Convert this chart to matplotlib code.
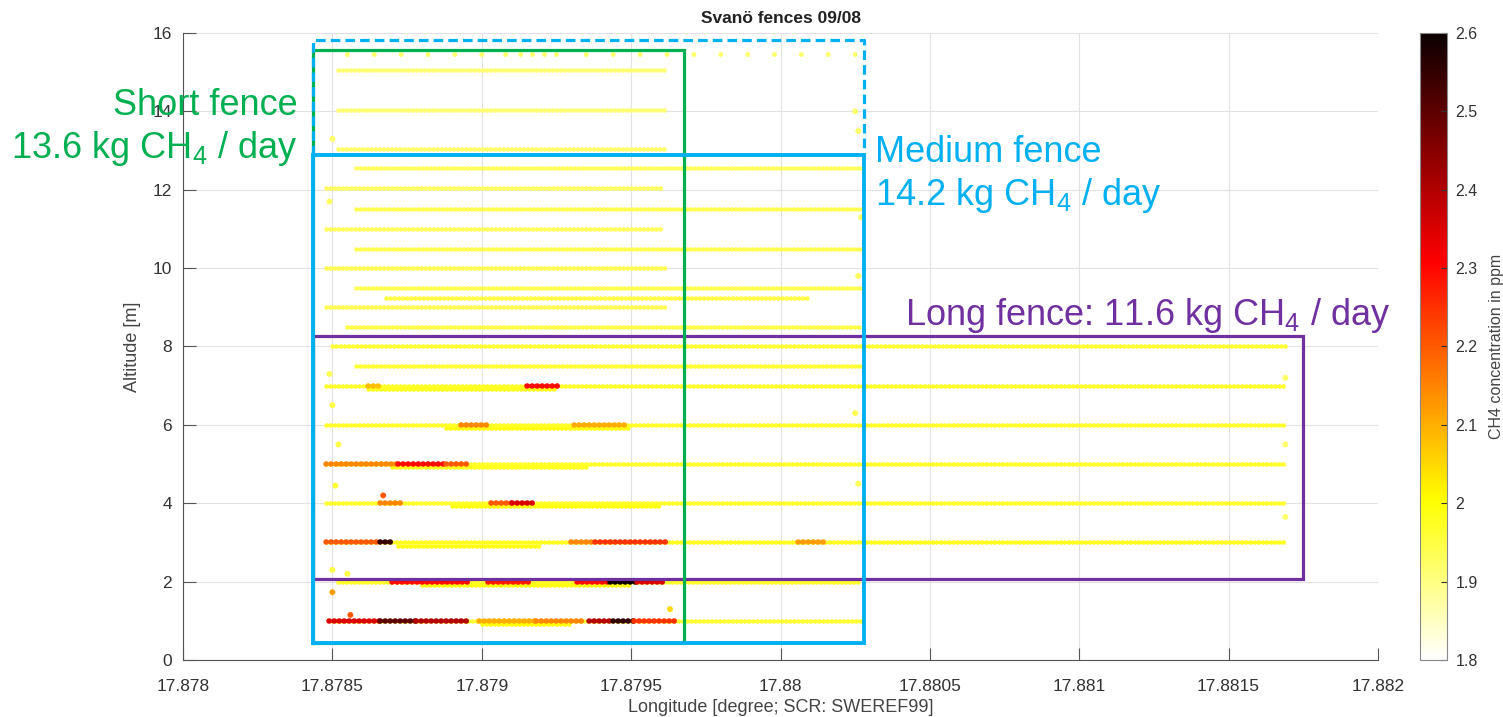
import numpy as np
import matplotlib.pyplot as plt
from matplotlib.collections import LineCollection
from matplotlib.colors import Normalize

plt.rcParams['font.family'] = ['Liberation Sans', 'DejaVu Sans']
plt.rcParams['mathtext.default'] = 'regular'

# flight tracks: altitude [m], start / end longitude, typical CH4 [ppm]
track_alt = [15.05, 14.03, 13.05, 12.55, 12.05, 11.5, 11.0, 10.5, 10.0, 9.5, 9.25, 9.0,
             8.5, 8.0, 7.5, 7.0, 6.0, 5.0, 4.0, 3.0, 2.0, 1.0,
             6.92, 5.92, 4.93, 3.92, 2.9, 1.92, 0.92]
track_lon0 = [17.87852, 17.87852, 17.87852, 17.87858, 17.87848, 17.87858, 17.87848, 17.87858,
              17.87848, 17.87858, 17.87868, 17.87848, 17.87855, 17.87850, 17.87858, 17.87848,
              17.87848, 17.87848, 17.87848, 17.87848, 17.87852, 17.87850,
              17.87862, 17.87888, 17.87870, 17.87890, 17.87872, 17.87880, 17.87900]
track_lon1 = [17.87962, 17.87962, 17.87962, 17.88027, 17.87960, 17.88027, 17.87960, 17.88027,
              17.87962, 17.88027, 17.88010, 17.87962, 17.88027, 17.88169, 17.88027, 17.88169,
              17.88169, 17.88169, 17.88169, 17.88169, 17.88027, 17.88027,
              17.87925, 17.87950, 17.87935, 17.87960, 17.87920, 17.87950, 17.87930]
track_ppm = [1.91, 1.91, 1.92, 1.93, 1.93, 1.94, 1.93, 1.94, 1.94, 1.94, 1.95, 1.94,
             1.95, 1.96, 1.96, 1.97, 1.97, 1.97, 1.97, 1.98, 1.97, 1.96,
             1.98, 1.99, 1.98, 1.99, 1.99, 1.99, 2.00]

# enhanced concentration stretches
hot_alt = [7.0, 7.0, 6.0, 6.0, 5.0, 5.0, 5.0, 4.0, 4.0, 4.0, 3.0, 3.0, 3.0, 3.0, 3.0,
           2.0, 2.0, 2.0, 2.0, 2.0, 1.0, 1.0, 1.0, 1.0, 1.0, 1.0, 1.0, 1.0]
hot_lon0 = [17.87915, 17.87862, 17.87893, 17.87931, 17.87848, 17.87872, 17.87888, 17.87866,
            17.87903, 17.87910, 17.87848, 17.87866, 17.87930, 17.87938, 17.88006,
            17.87870, 17.87902, 17.87932, 17.87943, 17.87952,
            17.87849, 17.87866, 17.87878, 17.87899, 17.87918, 17.87936, 17.87944, 17.87951]
hot_lon1 = [17.87927, 17.87867, 17.87903, 17.87948, 17.87872, 17.87888, 17.87895, 17.87874,
            17.87910, 17.87918, 17.87866, 17.87871, 17.87938, 17.87962, 17.88016,
            17.87896, 17.87917, 17.87943, 17.87952, 17.87962,
            17.87866, 17.87878, 17.87895, 17.87918, 17.87935, 17.87944, 17.87951, 17.87965]
hot_ppm = [2.30, 2.08, 2.15, 2.10, 2.15, 2.30, 2.20, 2.15, 2.20, 2.35, 2.20, 2.55, 2.15, 2.25, 2.12,
           2.30, 2.28, 2.30, 2.60, 2.35, 2.35, 2.50, 2.40, 2.10, 2.15, 2.40, 2.55, 2.25]

# isolated samples
dot_alt = [4.2, 1.73, 1.15, 2.3, 2.2, 1.3, 13.3, 11.7, 7.3, 6.5, 5.5, 4.45,
           14.0, 13.5, 11.3, 9.8, 6.3, 4.5, 7.2, 5.5, 3.65]
dot_lon = [17.87867, 17.87850, 17.87856, 17.87850, 17.87855, 17.87963, 17.87850, 17.87849,
           17.87849, 17.87850, 17.87852, 17.87851,
           17.88025, 17.88026, 17.88027, 17.88026, 17.88025, 17.88026, 17.88169, 17.88169, 17.88169]
dot_ppm = [2.2, 2.12, 2.2, 1.95, 1.95, 2.05, 1.92, 1.93, 1.94, 1.95, 1.95, 1.96,
           1.92, 1.92, 1.93, 1.93, 1.94, 1.94, 1.92, 1.92, 1.92]

# sparse samples along the top pass (15.45 m)
top_lon = [17.87855, 17.87864, 17.87873, 17.87882, 17.87891, 17.87900, 17.87908, 17.87913,
           17.87917, 17.87921, 17.87925, 17.87935, 17.87944, 17.87953, 17.87962, 17.87971,
           17.87980, 17.87989, 17.87998, 17.88007, 17.88016, 17.88025]
top_ppm = [1.92] * len(top_lon)

xticks = [17.878, 17.8785, 17.879, 17.8795, 17.88, 17.8805, 17.881, 17.8815, 17.882]
xticklabels = ['17.878', '17.8785', '17.879', '17.8795', '17.88', '17.8805', '17.881', '17.8815', '17.882']
yticks = [0, 2, 4, 6, 8, 10, 12, 14, 16]
cticks = [1.8, 1.9, 2.0, 2.1, 2.2, 2.3, 2.4, 2.5, 2.6]
cticklabels = ['1.8', '1.9', '2', '2.1', '2.2', '2.3', '2.4', '2.5', '2.6']

GREEN, BLUE, PURPLE = '#00B050', '#00B0F0', '#7030A0'
INK = '#333333'

fig = plt.figure(figsize=(15.03, 7.17), dpi=100)
ax = fig.add_axes([0.1218, 0.0795, 0.795, 0.8745])
cax = fig.add_axes([0.9448, 0.0795, 0.018, 0.8745])

norm = Normalize(vmin=1.8, vmax=2.6)
cmap = plt.get_cmap('hot_r')

segs = [[(x0, a), (x1, a)] for a, x0, x1 in zip(track_alt, track_lon0, track_lon1)]
lc = LineCollection(segs, array=np.array(track_ppm), cmap=cmap, norm=norm,
                    linewidths=3.3, linestyles=[(0, (0.05, 0.85))], capstyle='round', zorder=2)
ax.add_collection(lc)

hsegs = [[(x0, a), (x1, a)] for a, x0, x1 in zip(hot_alt, hot_lon0, hot_lon1)]
hlc = LineCollection(hsegs, array=np.array(hot_ppm), cmap=cmap, norm=norm,
                     linewidths=4.0, linestyles=[(0, (0.05, 0.85))], capstyle='round', zorder=3)
ax.add_collection(hlc)

ax.scatter(dot_lon, dot_alt, c=dot_ppm, cmap=cmap, norm=norm, s=18, edgecolors='none', zorder=3)
ax.scatter(top_lon, [15.45] * len(top_lon), c=top_ppm, cmap=cmap, norm=norm, s=12,
           edgecolors='none', zorder=3)

# fence boxes
L = 17.878436
ax.plot([L, 17.881748, 17.881748, L, L], [2.07, 2.07, 8.27, 8.27, 2.07],
        color=PURPLE, lw=2.3, zorder=4, solid_joinstyle='miter')
ax.plot([L, 17.879678, 17.879678, L, L], [0.43, 0.43, 15.56, 15.56, 0.43],
        color=GREEN, lw=2.3, zorder=5, solid_joinstyle='miter')
ax.plot([L, 17.880279, 17.880279, L, L], [0.43, 0.43, 12.88, 12.88, 0.43],
        color=BLUE, lw=2.8, zorder=6, solid_joinstyle='miter')
ax.plot([L, L, 17.880279, 17.880279], [12.88, 15.82, 15.82, 12.88],
        color=BLUE, lw=2.3, ls=(0, (3, 1.6)), zorder=6, clip_on=False)

ax.set_xlim(17.878, 17.882)
ax.set_ylim(0, 16)
ax.set_xticks(xticks)
ax.set_xticklabels(xticklabels)
ax.set_yticks(yticks)
ax.grid(True, color='#e2e2e2', lw=0.8)
ax.set_axisbelow(True)
for s in ['top', 'right']:
    ax.spines[s].set_visible(False)
for s in ['left', 'bottom']:
    ax.spines[s].set_color('#555555')
ax.tick_params(direction='in', length=9, width=0.8, color='#555555', labelcolor=INK, labelsize=12.5)
ax.tick_params(axis='x', pad=14)
ax.tick_params(axis='y', pad=8)
ax.set_xlabel('Longitude [degree; SCR: SWEREF99]', fontsize=13, color='#444444', labelpad=3)
ax.set_ylabel('Altitude [m]', fontsize=13, color='#444444', labelpad=8)
ax.set_title('Svanö fences 09/08', fontsize=12.5, fontweight='bold', color='#222222', pad=7)

fs = 26
ax.text(17.878383, 14.16, 'Short fence', color=GREEN, fontsize=fs, ha='right', va='center', zorder=7, clip_on=False)
ax.text(17.878383, 13.06, '13.6 kg CH$_4$ / day', color=GREEN, fontsize=fs, ha='right', va='center', zorder=7, clip_on=False)
ax.text(17.880315, 12.96, 'Medium fence', color=BLUE, fontsize=fs, ha='left', va='center', zorder=7, clip_on=False)
ax.text(17.880315, 11.86, '14.2 kg CH$_4$ / day', color=BLUE, fontsize=fs, ha='left', va='center', zorder=7, clip_on=False)
ax.text(17.880416, 8.8, 'Long fence: 11.6 kg CH$_4$ / day', color=PURPLE, fontsize=fs, ha='left', va='center', zorder=7, clip_on=False)

cb = fig.colorbar(lc, cax=cax)
cb.set_ticks(cticks)
cb.set_ticklabels(cticklabels)
cb.outline.set_edgecolor('#888888')
cb.outline.set_linewidth(0.8)
cax.tick_params(direction='in', length=4, width=0.8, color='#333333', labelcolor=INK, labelsize=11.5, pad=6)
cb.set_label('CH4 concentration in ppm', fontsize=11.5, color='#444444', labelpad=8)

fig.savefig('out.png', dpi=100)
